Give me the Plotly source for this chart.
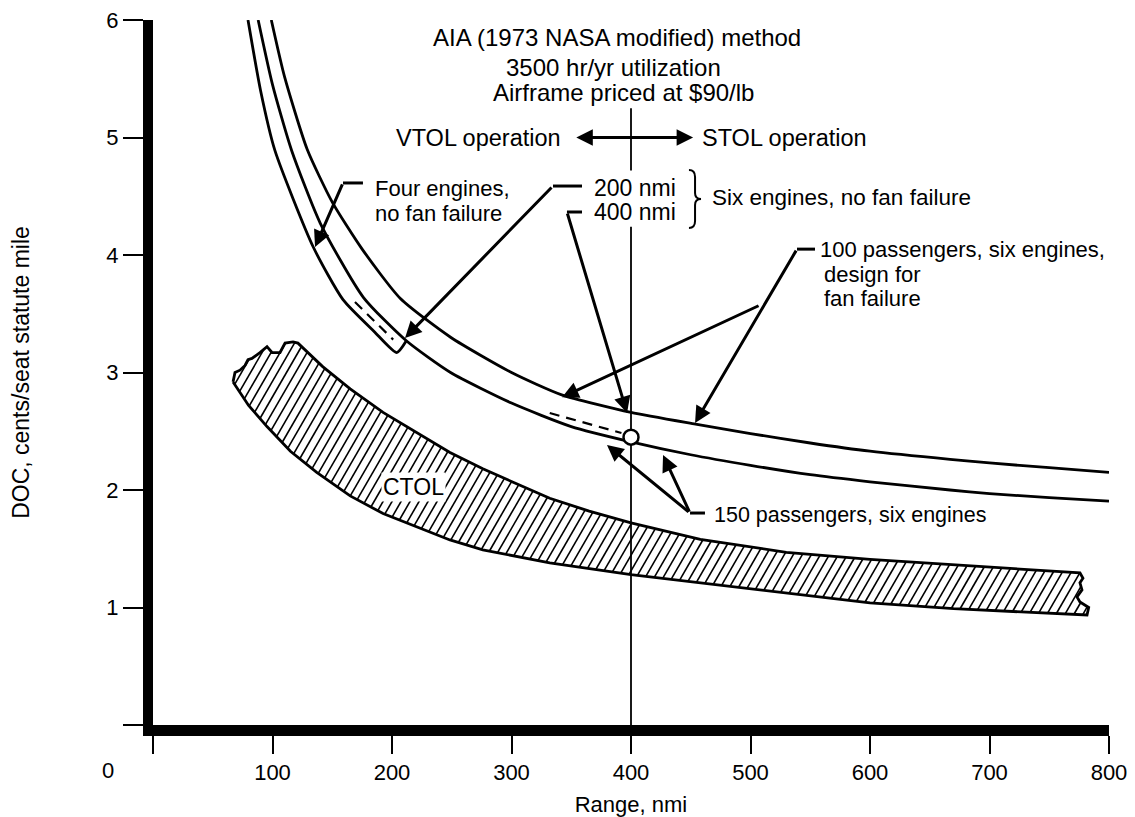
import numpy as np
import plotly.graph_objects as go

# ---------------- axis ticks ----------------
x_ticks = [0, 100, 200, 300, 400, 500, 600, 700, 800]
x_ticklabels = ["", "100", "200", "300", "400", "500", "600", "700", "800"]
y_ticks = [0, 1, 2, 3, 4, 5, 6]
y_ticklabels = ["", "1", "2", "3", "4", "5", "6"]

# ---------------- curves (range nmi, DOC cents/seat statute mile) ----------------
# 100 passengers, six engines, design for fan failure (upper long curve)
upper_x = [99, 110, 129, 150, 175, 207, 249, 300, 342, 400, 454, 500, 550, 600, 667, 700, 750, 800]
upper_y = [6.0, 5.52, 4.9, 4.45, 4.05, 3.63, 3.30, 3.0, 2.81, 2.66, 2.56, 2.48, 2.40, 2.33, 2.26, 2.23, 2.19, 2.15]

# 150 passengers, six engines (lower long curve)
lower_x = [88, 100, 116, 140, 176, 212, 249, 300, 350, 400, 450, 500, 550, 600, 667, 700, 750, 800]
lower_y = [6.0, 5.45, 4.89, 4.27, 3.64, 3.27, 3.0, 2.74, 2.54, 2.41, 2.30, 2.21, 2.13, 2.07, 2.0, 1.97, 1.935, 1.906]

# Four engines, no fan failure (lower edge of the narrow band, ending in a tip)
four_x = [79.5, 90, 102, 134, 159, 185, 204, 212]
four_y = [6.0, 5.4, 4.89, 4.07, 3.62, 3.35, 3.17, 3.27]

# dashed lines inside the bands
four_dash_x = [169, 201]
four_dash_y = [3.60, 3.28]
six_dash_x = [332, 392]
six_dash_y = [2.655, 2.485]

# design point (400 nmi)
design_x = [400]
design_y = [2.45]

# CTOL band
ctol_lower_x = [67, 80, 95.4, 115, 137, 165, 192.5, 221, 248.5, 276, 305, 332, 400, 458, 530, 600, 670, 736, 781.6]
ctol_lower_y = [2.92, 2.72, 2.54, 2.33, 2.15, 1.95, 1.80, 1.685, 1.575, 1.49, 1.43, 1.38, 1.28, 1.21, 1.12, 1.04, 0.99, 0.955, 0.936]
ctol_upper_x = [121.3, 142, 165, 192.5, 221, 248.5, 276, 305, 332, 365, 400, 458, 530, 600, 670, 736, 775.7]
ctol_upper_y = [3.25, 3.05, 2.86, 2.66, 2.49, 2.32, 2.18, 2.05, 1.93, 1.82, 1.72, 1.58, 1.47, 1.41, 1.36, 1.32, 1.294]
ctol_left_cap_x = [67, 68.6, 72.8, 77, 79.5, 82.8, 89.5, 95.4, 99.6, 106.3, 110.5, 117.2, 121.3]
ctol_left_cap_y = [2.92, 3.00, 3.02, 3.06, 3.11, 3.12, 3.17, 3.22, 3.17, 3.17, 3.25, 3.26, 3.25]
ctol_right_cap_x = [781.6, 783, 775.7, 773.2, 777.4, 775.7, 778.2, 775.7]
ctol_right_cap_y = [0.936, 1.0, 1.047, 1.09, 1.15, 1.21, 1.25, 1.294]

# 400 nmi divider line pieces (y extents)
divider_x = 400
divider_pieces = [(5.25, 4.72), (4.24, 0.0)]

# ---------------- figure geometry ----------------
# (the page body adds an 8 px offset; figure size/margins compensate)
W, H = 1127, 809
ML, MR, MT, MB = 145, 26, 12, 92
XR = (0, 800)
YR = (0, 6)
SX = (W - ML - MR) / (XR[1] - XR[0])
SY = (H - MT - MB) / (YR[1] - YR[0])

FONT = "Liberation Sans, Arial, Helvetica, sans-serif"
LW = 2.8

fig = go.Figure()

# ---- CTOL polygon + hatch ----
poly_x = (ctol_lower_x + ctol_right_cap_x[1:] + ctol_upper_x[::-1][1:] + ctol_left_cap_x[::-1][1:])
poly_y = (ctol_lower_y + ctol_right_cap_y[1:] + ctol_upper_y[::-1][1:] + ctol_left_cap_y[::-1][1:])
px_ = np.array(poly_x) * SX
py_ = np.array(poly_y) * SY

theta = np.deg2rad(60)
d = np.array([np.cos(theta), np.sin(theta)])
n = np.array([-np.sin(theta), np.cos(theta)])
cvals = px_ * n[0] + py_ * n[1]
spacing = 9.0 * np.sin(theta)
hx, hy = [], []
nv = len(px_)
c = cvals.min() + spacing * 0.5
while c < cvals.max():
    pts = []
    for i in range(nv):
        j = (i + 1) % nv
        c1, c2 = cvals[i], cvals[j]
        if (c1 - c) * (c2 - c) < 0:
            t = (c - c1) / (c2 - c1)
            qx = px_[i] + t * (px_[j] - px_[i])
            qy = py_[i] + t * (py_[j] - py_[i])
            pts.append((qx * d[0] + qy * d[1], qx, qy))
    pts.sort()
    for k in range(0, len(pts) - 1, 2):
        hx += [pts[k][1] / SX, pts[k + 1][1] / SX, None]
        hy += [pts[k][2] / SY, pts[k + 1][2] / SY, None]
    c += spacing

fig.add_trace(go.Scatter(x=hx, y=hy, mode="lines", line=dict(color="black", width=1.6),
                         hoverinfo="skip", showlegend=False))
fig.add_trace(go.Scatter(x=poly_x + [poly_x[0]], y=poly_y + [poly_y[0]], mode="lines",
                         line=dict(color="black", width=LW), showlegend=False, name="CTOL"))

# ---- curves ----
for xs, ys, nm in [(upper_x, upper_y, "100 passengers"), (lower_x, lower_y, "150 passengers"),
                   (four_x, four_y, "Four engines")]:
    fig.add_trace(go.Scatter(x=xs, y=ys, mode="lines",
                             line=dict(color="black", width=LW, shape="spline", smoothing=0.6),
                             showlegend=False, name=nm))

for xs, ys in [(four_dash_x, four_dash_y), (six_dash_x, six_dash_y)]:
    fig.add_trace(go.Scatter(x=xs, y=ys, mode="lines", line=dict(color="black", width=2.2, dash="10px,7px"),
                             showlegend=False))

# ---- divider line ----
dvx, dvy = [], []
for y0, y1 in divider_pieces:
    dvx += [divider_x, divider_x, None]
    dvy += [y0, y1, None]
fig.add_trace(go.Scatter(x=dvx, y=dvy, mode="lines", line=dict(color="black", width=1.8), showlegend=False))

# ---- leader lines (non-arrow parts) ----
leaders = [
    ([175.7, 159], [4.613, 4.613]),
    ([359, 334.7], [4.587, 4.587]),
    ([359, 346.4], [4.366, 4.366]),
    ([554, 538.9], [4.05, 4.05]),
    ([461.9, 449.4], [1.804, 1.804]),
]
for xs, ys in leaders:
    fig.add_trace(go.Scatter(x=xs, y=ys, mode="lines", line=dict(color="black", width=3), showlegend=False))

# ---- design point ----
fig.add_trace(go.Scatter(x=design_x, y=design_y, mode="markers",
                         marker=dict(size=15, color="white", line=dict(color="black", width=2.5)),
                         showlegend=False))

# ---- arrows ----
arrows = [
    (159, 4.613, 135.6, 4.068),
    (334.7, 4.587, 210.9, 3.294),
    (346.4, 4.366, 396.7, 2.655),
    (538.9, 4.05, 453.6, 2.57),
    (508, 3.574, 342.3, 2.79),
    (449.4, 1.804, 379.9, 2.383),
    (449.4, 1.804, 426.8, 2.298),
]
annotations = []
for ax_, ay_, x_, y_ in arrows:
    annotations.append(dict(x=x_, y=y_, ax=ax_, ay=ay_, xref="x", yref="y", axref="x", ayref="y",
                            text="", showarrow=True, arrowhead=2, arrowsize=1.1, arrowwidth=3,
                            arrowcolor="black", standoff=0))
# double arrow VTOL/STOL
annotations.append(dict(x=452, y=5.0, ax=353, ay=5.0, xref="x", yref="y", axref="x", ayref="y",
                        text="", showarrow=True, arrowhead=2, arrowside="end+start", arrowsize=1.1,
                        arrowwidth=3, arrowcolor="black", standoff=0, startstandoff=0))


def txt(t, x, y, xanchor="left", size=22, bg=None):
    a = dict(text=t, x=x, y=y, xref="x", yref="y", showarrow=False, xanchor=xanchor, yanchor="middle",
             font=dict(family=FONT, size=size, color="black"))
    if bg:
        a["bgcolor"] = bg
    annotations.append(a)


txt("AIA (1973 NASA modified) method", 388.3, 5.855, "center", 24)
txt("3500 hr/yr utilization", 385.5, 5.6, "center", 24)
txt("Airframe priced at $90/lb", 394, 5.38, "center", 24)
txt("VTOL operation", 343, 5.0, "right", 23.5)
txt("STOL operation", 457.7, 5.0, "left", 23.5)
txt("200 nmi", 367.4, 4.57, "left", 23)
txt("400 nmi", 367.4, 4.366, "left", 23)
txt("Six engines, no fan failure", 466, 4.49, "left", 22.5)
txt("Four engines,", 184, 4.57, "left", 22)
txt("no fan failure", 184, 4.357, "left", 22)
txt("100 passengers, six engines,", 556.5, 4.05, "left", 22)
txt("design for", 559.6, 3.83, "left", 22)
txt("fan failure", 559.6, 3.634, "left", 22)
txt("150 passengers, six engines", 467.8, 1.787, "left", 21.5)
txt("CTOL", 218.4, 2.026, "center", 23, bg="white")

# corner zero label
annotations.append(dict(text="0", x=-0.047, y=-0.064, xref="paper", yref="paper", showarrow=False,
                        xanchor="center", yanchor="middle", font=dict(family=FONT, size=22, color="black")))

# brace
brace = ("M 448.5,4.723 Q 453.6,4.723 453.6,4.664 L 453.6,4.528 Q 453.6,4.477 458.6,4.477 "
         "Q 453.6,4.477 453.6,4.426 L 453.6,4.289 Q 453.6,4.23 448.5,4.23")

fig.update_layout(
    width=W, height=H,
    margin=dict(l=ML, r=MR, t=MT, b=MB, pad=0, autoexpand=False),
    paper_bgcolor="white", plot_bgcolor="white",
    showlegend=False,
    annotations=annotations,
    shapes=[dict(type="path", path=brace, xref="x", yref="y", line=dict(color="black", width=2))],
    font=dict(family=FONT, color="black"),
)
fig.update_xaxes(range=list(XR), tickvals=x_ticks, ticktext=x_ticklabels, showgrid=False, zeroline=False,
                 automargin=False, ticklabeloverflow="allow",
                 showline=True, linewidth=11, linecolor="black", ticks="outside", ticklen=18, tickwidth=2,
                 tickcolor="black", tickfont=dict(family=FONT, size=22, color="black"),
                 title=dict(text="Range, nmi", font=dict(family=FONT, size=22, color="black"), standoff=20))
fig.update_yaxes(range=list(YR), tickvals=y_ticks, ticktext=y_ticklabels, showgrid=False, zeroline=False,
                 automargin=False, ticklabeloverflow="allow",
                 showline=True, linewidth=10, linecolor="black", ticks="outside", ticklen=20, tickwidth=2,
                 tickcolor="black", tickfont=dict(family=FONT, size=22, color="black"),
                 title=dict(text="DOC, cents/seat statute mile", font=dict(family=FONT, size=23, color="black"),
                            standoff=76))

fig.write_html("out.html")
